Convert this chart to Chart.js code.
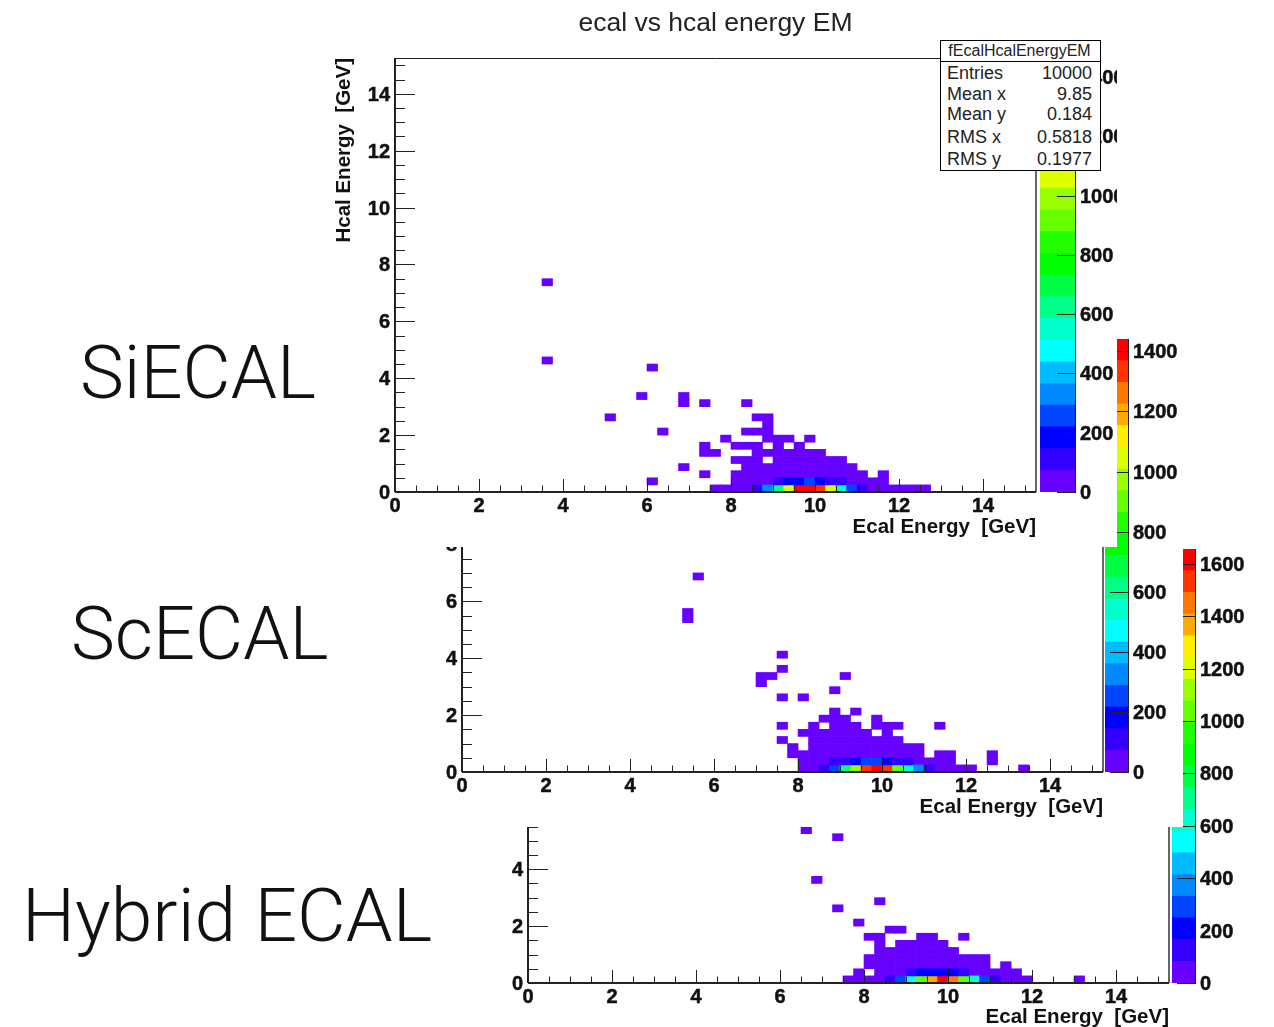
<!DOCTYPE html>
<html>
<head>
<meta charset="utf-8">
<title>ecal vs hcal energy EM</title>
<script src="https://cdn.jsdelivr.net/npm/chart.js@4"></script>
<style>
  html, body { margin: 0; padding: 0; background: #fff; }
  body { position: relative; width: 1274px; height: 1027px; overflow: hidden; font-family: "Liberation Sans", sans-serif; }
  .panel { position: absolute; background: #fff; overflow: hidden; }
  .panel canvas { position: absolute; top: 0; }
  .name { position: absolute; font-family: "Roboto", sans-serif; font-weight: 300; font-size: 74px; line-height: 80px; color: #111; white-space: nowrap; }
  #stats { position: absolute; left: 624px; top: 40px; width: 159px; height: 129px; background: #fff; border: 1px solid #000; color: #222; font-size: 18px; }
  #stats .head { height: 20px; line-height: 20px; font-size: 16px; text-align: center; border-bottom: 1px solid #000; padding-right: 2px; }
  #stats .row { position: absolute; left: 6px; right: 8px; height: 21px; line-height: 21px; }
  #stats .row b { font-weight: normal; position: absolute; right: 0; top: 0; }
</style>
</head>
<body>

<div class="name" style="left:80px;top:333px">SiECAL</div>
<div class="name" style="left:71px;top:594px">ScECAL</div>
<div class="name" style="left:22px;top:875px;font-size:75px">Hybrid ECAL</div>

<div class="panel" id="panel3" style="left:505px;top:540px;width:769px;height:492px">
  <canvas id="heat3" width="666" height="492" style="left:0"></canvas>
  <canvas id="bar3" width="102" height="492" style="left:667px"></canvas>
</div>
<div class="panel" id="panel2" style="left:400px;top:330px;width:783px;height:497px">
  <canvas id="heat2" width="705" height="497" style="left:0"></canvas>
  <canvas id="bar2" width="78" height="497" style="left:705px"></canvas>
</div>
<div class="panel" id="panel1" style="left:316px;top:0;width:801px;height:547px">
  <canvas id="heat1" width="724" height="547" style="left:0"></canvas>
  <canvas id="bar1" width="77" height="547" style="left:724px"></canvas>
  <div id="stats">
    <div class="head">fEcalHcalEnergyEM</div>
    <div class="row" style="top:22px">Entries<b>10000</b></div>
    <div class="row" style="top:43px">Mean x<b>9.85</b></div>
    <div class="row" style="top:63px">Mean y<b>0.184</b></div>
    <div class="row" style="top:86px">RMS x<b>0.5818</b></div>
    <div class="row" style="top:108px">RMS y<b>0.1977</b></div>
  </div>
</div>

<script>
// Colour levels, bottom to top of the palette
const palette = ['#6600ff', '#3300ff', '#0000ff', '#0044ff', '#0088ff', '#00bbff', '#00ffff', '#00ffcc', '#00ff88', '#00ff44',
    '#00ff00', '#22ff00', '#66ff00', '#99ff00', '#ddff00', '#ffee00', '#ffaa00', '#ff7700', '#ff3300', '#ff0000'];

const binSize = 0.25;
const axisMax = 15.26;
const lowCount = 20;
const energyMajor = [0, 2, 4, 6, 8, 10, 12, 14];
const energyMinor = [0.5, 1, 1.5, 2.5, 3, 3.5, 4.5, 5, 5.5, 6.5, 7, 7.5, 8.5, 9, 9.5, 10.5, 11, 11.5, 12.5, 13, 13.5, 14.5, 15];

// Runs of low-count cells: [hcal bin, first ecal bin, last ecal bin], in GeV
const siRuns = [[7.25, 3.5, 3.5], [4.5, 3.5, 3.5], [4.25, 6, 6], [3.25, 5.75, 5.75], [3.25, 6.75, 6.75],
    [3, 6.75, 6.75], [3, 7.25, 7.25], [3, 8.25, 8.25], [2.5, 5, 5], [2.5, 8.5, 8.75], [2.25, 8.75, 8.75],
    [2, 6.25, 6.25], [2, 8.25, 8.75], [1.75, 7.75, 7.75], [1.75, 8.75, 9.25], [1.75, 9.75, 9.75],
    [1.5, 7.25, 7.25], [1.5, 8, 8.5], [1.5, 9, 9], [1.5, 9.5, 9.5], [1.25, 7.25, 7.5], [1.25, 8.5, 10],
    [1, 8, 8.5], [1, 9, 10.5], [0.75, 6.75, 6.75], [0.75, 8.25, 10.75], [0.5, 7.25, 7.25], [0.5, 8, 11],
    [0.5, 11.5, 11.5], [0.25, 6, 6], [0.25, 8, 8.75], [0.25, 10.75, 11.5], [0, 7.5, 8.25], [0, 11.25, 12.5]];
const siPeak0 = [110, 330, 620, 1050, 1440, 1450, 1350, 1060, 560, 250, 100];
const siPeak1 = [120, 180, 180, 250, 180, 110, 110];

const scRuns = [[6.75, 5.5, 5.5], [5.5, 5.25, 5.25], [5.25, 5.25, 5.25], [4, 7.5, 7.5], [3.5, 7.5, 7.5],
    [3.25, 7, 7.25], [3.25, 9, 9], [3, 7, 7], [2.75, 8.75, 8.75], [2.5, 7.5, 7.5], [2.5, 8, 8],
    [2, 8.75, 8.75], [2, 9.25, 9.25], [1.75, 8.5, 9], [1.75, 9.75, 9.75], [1.5, 7.5, 7.5], [1.5, 8.25, 8.25],
    [1.5, 8.75, 9.25], [1.5, 9.75, 10.25], [1.5, 11.25, 11.25], [1.25, 8, 9.5], [1.25, 10, 10], [1, 7.5, 7.5],
    [1, 8.25, 10.25], [0.75, 7.75, 7.75], [0.75, 8.25, 10.75], [0.5, 7.75, 10.75], [0.5, 11.25, 11.5],
    [0.5, 12.5, 12.5], [0.25, 8, 8.5], [0.25, 10.75, 11.5], [0.25, 12.5, 12.5], [0, 8, 8.25], [0, 11.25, 12], [0, 13.25, 13.25]];
const scPeak0 = [100, 250, 620, 970, 1330, 1400, 1310, 900, 540, 320, 110];
const scPeak1 = [110, 110, 180, 250, 250, 180, 110, 110];

const hyRuns = [[5.25, 6.5, 6.5], [5, 7.25, 7.25], [3.5, 6.75, 6.75], [2.5, 7.25, 7.25], [2.75, 8.25, 8.25],
    [2, 7.75, 7.75], [1.75, 8.5, 8.75], [1.5, 8, 8.25], [1.5, 9.25, 9.5], [1.5, 10.25, 10.25], [1.25, 8.25, 8.25],
    [1.25, 8.75, 9.75], [1, 8.25, 10], [0.75, 8, 10.75], [0.5, 8, 10.75], [0.5, 11.25, 11.25], [0.25, 7.75, 7.75],
    [0.25, 8.25, 8.75], [0.25, 10.5, 11.5], [0, 7.5, 8.25], [0, 11.25, 11.75], [0, 13, 13]];
const hyPeak0 = [120, 290, 540, 1030, 1370, 1620, 1450, 1040, 620, 280, 120];
const hyPeak1 = [120, 200, 200, 200, 200, 120];

const tickFont = { family: 'Liberation Sans', size: 20, weight: 'bold' };
const titleFont = { family: 'Liberation Sans', size: 20.5, weight: 'bold' };

// Turn the runs and peak rows into one floating bar per cell
function makeCells(runs, peak0, start0, peak1, start1, zMax) {
    const cells = [];
    const colors = [];
    function addCell(hcal, ecal, count) {
        cells.push({ x: ecal + binSize / 2, y: [hcal, hcal + binSize] });
        colors.push(palette[Math.min(19, Math.floor(count / (zMax / 20)))]);
    }
    runs.forEach(run => {
        for (let e = run[1]; e <= run[2]; e += binSize) addCell(run[0], e, lowCount);
    });
    peak0.forEach((count, k) => addCell(0, start0 + k * binSize, count));
    peak1.forEach((count, k) => addCell(binSize, start1 + k * binSize, count));
    return { cells, colors };
}

// ROOT style ticks point into the plot, and the frame is drawn over the cells
const rootFrame = {
    id: 'rootFrame',
    afterDatasetsDraw(chart) {
        const { ctx, chartArea: a, scales } = chart;
        ctx.save();
        ctx.strokeStyle = '#222';
        ctx.lineWidth = 1;
        ctx.beginPath();
        energyMajor.concat(energyMinor).forEach(v => {
            const major = energyMajor.includes(v);
            const px = Math.round(scales.x.getPixelForValue(v)) + 0.5;
            ctx.moveTo(px, a.bottom);
            ctx.lineTo(px, a.bottom - (major ? 13 : 6.5));
            const py = Math.round(scales.y.getPixelForValue(v)) + 0.5;
            ctx.moveTo(a.left, py);
            ctx.lineTo(a.left + (major ? 20 : 10), py);
        });
        ctx.moveTo(a.left, a.top + 0.5);
        ctx.lineTo(a.right, a.top + 0.5);
        ctx.stroke();
        ctx.strokeStyle = '#333';
        ctx.lineWidth = 1.5;
        ctx.beginPath();
        ctx.moveTo(a.right, a.top);
        ctx.lineTo(a.right, a.bottom);
        ctx.stroke();
        ctx.strokeStyle = '#222';
        ctx.lineWidth = 2;
        ctx.beginPath();
        ctx.moveTo(a.left, a.top);
        ctx.lineTo(a.left, a.bottom);
        ctx.moveTo(a.left, a.bottom);
        ctx.lineTo(a.right, a.bottom);
        ctx.stroke();
        ctx.restore();
    }
};

const barTicks = {
    id: 'barTicks',
    afterDatasetsDraw(chart) {
        const { ctx, chartArea: a, scales } = chart;
        ctx.save();
        ctx.strokeStyle = '#222';
        ctx.lineWidth = 1;
        ctx.beginPath();
        scales.y.ticks.forEach(t => {
            const py = Math.round(scales.y.getPixelForValue(t.value)) + 0.5;
            ctx.moveTo(a.right, py);
            ctx.lineTo(a.right - 19, py);
        });
        ctx.moveTo(a.right - 0.5, a.top);
        ctx.lineTo(a.right - 0.5, a.bottom);
        ctx.stroke();
        ctx.restore();
    }
};

function heatChart(id, data, layout, title) {
    return new Chart(document.getElementById(id), {
        type: 'bar',
        data: {
            datasets: [{ data: data.cells, backgroundColor: data.colors, barThickness: 10.5, borderWidth: 0 }]
        },
        options: {
            responsive: false,
            animation: false,
            layout: { padding: layout.padding },
            plugins: {
                legend: { display: false },
                tooltip: { enabled: false },
                title: title ? {
                    display: true, text: title, fullSize: false, color: '#222',
                    font: { family: 'Liberation Sans', size: 26.5, weight: 'normal', lineHeight: 1.2 },
                    padding: { top: 8, bottom: 18.2 }
                } : { display: false }
            },
            scales: {
                x: {
                    type: 'linear', min: 0, max: axisMax, offset: false,
                    grid: { display: false, drawTicks: false },
                    border: { display: false },
                    ticks: { stepSize: 2, includeBounds: false, maxRotation: 0, autoSkip: false, font: tickFont, color: '#111', padding: 2, textStrokeColor: '#111', textStrokeWidth: 0.5 },
                    title: { display: true, text: 'Ecal Energy  [GeV]', align: 'end', font: titleFont, color: '#111', padding: { top: 0, bottom: layout.xTitlePad } },
                    afterFit: s => { s.height = layout.xHeight; s.paddingLeft = 0; s.paddingRight = 0; }
                },
                y: {
                    min: 0, max: axisMax,
                    grid: { display: false, drawTicks: false },
                    border: { display: false },
                    ticks: { stepSize: 2, includeBounds: false, autoSkip: false, font: tickFont, color: '#111', padding: 5, labelOffset: 1.5, textStrokeColor: '#111', textStrokeWidth: 0.5 },
                    title: layout.yTitle ? { display: true, text: 'Hcal Energy  [GeV]', align: 'end', font: titleFont, color: '#111', padding: { top: 15.7, bottom: 0 } } : { display: false },
                    afterFit: s => { s.width = layout.yWidth; s.paddingTop = 0; s.paddingBottom = 0; }
                }
            }
        },
        plugins: [rootFrame]
    });
}

function colorBar(id, zMax, layout) {
    return new Chart(document.getElementById(id), {
        type: 'bar',
        data: {
            labels: ['z'],
            datasets: palette.map(c => ({ data: [zMax / 20], backgroundColor: c, borderWidth: 0, categoryPercentage: 1, barPercentage: 1 }))
        },
        options: {
            responsive: false,
            animation: false,
            layout: { padding: layout.padding },
            plugins: { legend: { display: false }, tooltip: { enabled: false } },
            scales: {
                x: { stacked: true, display: false },
                y: {
                    stacked: true, position: 'right', min: 0, max: zMax,
                    grid: { display: false, drawTicks: false },
                    border: { display: false },
                    ticks: { stepSize: 200, includeBounds: false, autoSkip: false, font: tickFont, color: '#111', padding: 4, labelOffset: 1.5, textStrokeColor: '#111', textStrokeWidth: 0.5, callback: v => String(v) },
                    afterFit: s => { s.width = layout.width; s.paddingTop = 0; s.paddingBottom = 0; }
                }
            }
        },
        plugins: [barTicks]
    });
}

const siMax = 1464;
const scMax = 1441;
const hyMax = 1657;

heatChart('heat3', makeCells(hyRuns, hyPeak0, 8.5, hyPeak1, 9, hyMax),
    { padding: { top: 9, right: 2 }, xHeight: 49, yWidth: 23, xTitlePad: 2.7 });
colorBar('bar3', hyMax, { padding: { top: 9, bottom: 49 }, width: 78 });

heatChart('heat2', makeCells(scRuns, scPeak0, 8.5, scPeak1, 8.75, scMax),
    { padding: { top: 8, right: 2 }, xHeight: 55, yWidth: 62, xTitlePad: 7.7 });
colorBar('bar2', scMax, { padding: { top: 9, bottom: 55 }, width: 54 });

heatChart('heat1', makeCells(siRuns, siPeak0, 8.5, siPeak1, 9, siMax),
    { padding: { right: 4 }, xHeight: 55, yWidth: 79, xTitlePad: 7.7, yTitle: true }, 'ecal vs hcal energy EM');
colorBar('bar1', siMax, { padding: { top: 58, bottom: 55 }, width: 41 });
</script>
</body>
</html>
